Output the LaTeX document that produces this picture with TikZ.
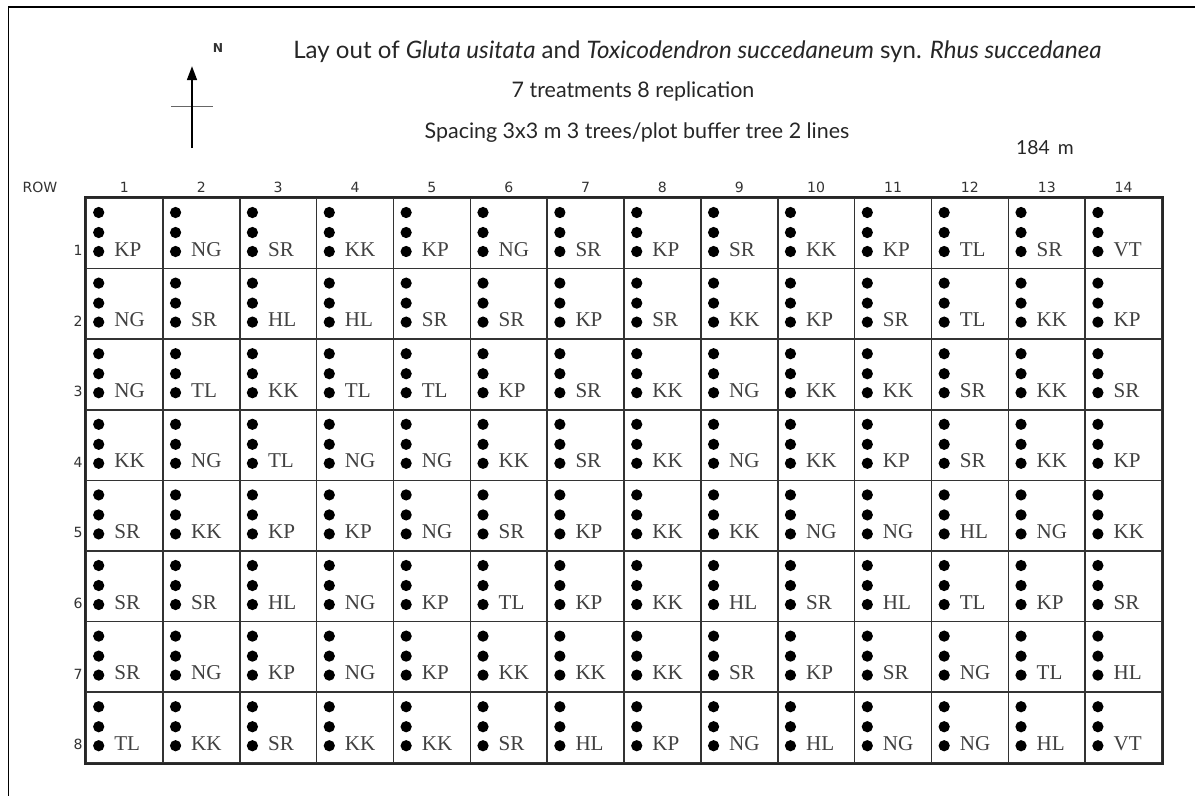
\documentclass[tikz,border=0pt]{standalone}
\usepackage{fontspec}
\setmainfont{Liberation Serif}
\newfontfamily\titlefont{Lato}
\newfontfamily\headfont{DejaVu Sans}
\usetikzlibrary{arrows.meta}

\begin{document}
\begin{tikzpicture}[
    x=0.02cm,y=-0.02cm,
    plotcell/.style={
        rectangle,
        draw=black!80,
        line width=0.9pt,
        minimum width=1.5372cm,
        minimum height=1.412cm,
        inner sep=0pt
    },
    tree/.style={
        circle,
        fill=black,
        minimum size=6.4pt,
        inner sep=0pt
    },
    treat/.style={anchor=base west,inner sep=0pt,text=black!75,
        font=\fontsize{12}{14}\selectfont},
    head/.style={anchor=base,inner sep=0pt,text=black!80,
        font=\headfont\fontsize{8}{10}\selectfont},
    every node/.style={font=\titlefont}
]

\useasboundingbox (0,0) rectangle (1195,796);

% frame
\coordinate (frame-ne) at (1195,7);
\coordinate (frame-nw) at (8.5,7);
\coordinate (frame-sw) at (8.5,796);
\draw[line width=1.1pt] (frame-ne) -- (frame-nw) -- (frame-sw);

% north arrow
\coordinate (arrow-tail) at (192,148);
\coordinate (arrow-tip)  at (192,66);
\coordinate (cross-w) at (171,106);
\coordinate (cross-e) at (213,106);
\draw[black!60,line width=0.5pt] (cross-w) -- (cross-e);
\draw[line width=1.4pt,-{Triangle[length=8pt,width=5.5pt]}] (arrow-tail) -- (arrow-tip);
\node[anchor=base,inner sep=0pt,font=\headfont\bfseries\fontsize{7}{8}\selectfont,text=black!80]
    (north) at (218,52) {N};

% titles
\node[anchor=base west,inner sep=0pt,font=\titlefont\fontsize{13.7}{16}\selectfont,text=black!85]
    (title) at (293,58)
    {Lay out of \textit{Gluta usitata} and \textit{Toxicodendron succedaneum} syn. \textit{Rhus succedanea}};
\node[anchor=base,inner sep=0pt,font=\titlefont\fontsize{12.2}{14}\selectfont,text=black!85]
    (treatments) at (633,97) {7 treatments 8 replication};
\node[anchor=base,inner sep=0pt,font=\titlefont\fontsize{12.2}{14}\selectfont,text=black!85]
    (spacing) at (637,138) {Spacing 3x3 m 3 trees/plot buffer tree 2 lines};
\node[anchor=base,inner sep=0pt,font=\titlefont\fontsize{11}{13}\selectfont,text=black!85]
    (length) at (1045,154) {184\, m};

% headers
\node[head] (row-head) at (40,192) {ROW};
\foreach \c in {1,...,14}
    \node[head] (col-\c) at ({86+(\c-0.5)*76.86},192) {\c};

% plots
\foreach \row [count=\r] in {
    {KP,NG,SR,KK,KP,NG,SR,KP,SR,KK,KP,TL,SR,VT},
    {NG,SR,HL,HL,SR,SR,KP,SR,KK,KP,SR,TL,KK,KP},
    {NG,TL,KK,TL,TL,KP,SR,KK,NG,KK,KK,SR,KK,SR},
    {KK,NG,TL,NG,NG,KK,SR,KK,NG,KK,KP,SR,KK,KP},
    {SR,KK,KP,KP,NG,SR,KP,KK,KK,NG,NG,HL,NG,KK},
    {SR,SR,HL,NG,KP,TL,KP,KK,HL,SR,HL,TL,KP,SR},
    {SR,NG,KP,NG,KP,KK,KK,KK,SR,KP,SR,NG,TL,HL},
    {TL,KK,SR,KK,KK,SR,HL,KP,NG,HL,NG,NG,HL,VT}} {
    \node[head,anchor=base east] (row-\r) at (83,{198+(\r-1)*70.6+57.5}) {\r};
    \foreach \lab [count=\c] in \row {
        \node[plotcell] (cell-\r-\c) at ({86+(\c-0.5)*76.86},{198+(\r-0.5)*70.6}) {};
        \foreach \k/\dy in {1/14.5,2/34.5,3/53.5}
            \node[tree] (tree-\r-\c-\k) at ({86+(\c-1)*76.86+12.7},{198+(\r-1)*70.6+\dy}) {};
        \node[treat] (lab-\r-\c) at ({86+(\c-1)*76.86+28},{198+(\r-1)*70.6+58}) {\lab};
    }
}

\draw[black!85,line width=1.1pt] (cell-1-1.north west) rectangle (cell-8-14.south east);

\end{tikzpicture}
\end{document}
